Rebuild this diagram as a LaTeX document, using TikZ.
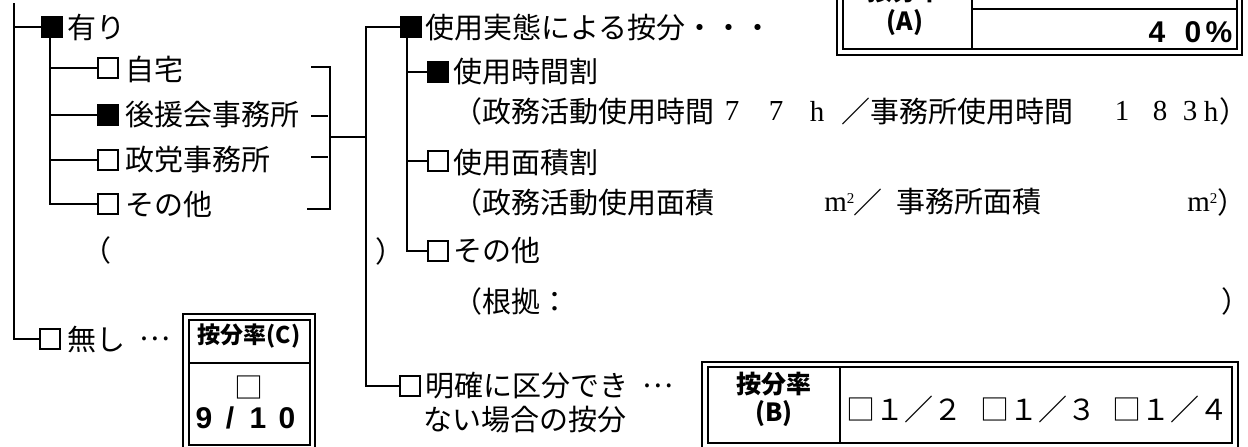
\documentclass[tikz,border=0pt]{standalone}
\usepackage{fontspec}
\setmainfont{Noto Sans CJK JP}
\newfontfamily\serifnum{Liberation Serif}
\newfontfamily\sansnum{Liberation Sans}
\begin{document}
\begin{tikzpicture}[x=0.5pt,y=-0.5pt]
\tikzset{
 tree/.style={line width=1.2pt},
 sqe/.style={draw, line width=0.75pt, minimum size=10pt, inner sep=0pt, fill=white},
 sqf/.style={sqe, fill=black},
 lbl/.style={anchor=west, inner sep=0pt, font=\fontsize{14.5pt}{16pt}\selectfont},
 cen/.style={inner sep=0pt, font=\fontsize{14.5pt}{16pt}\selectfont},
 num/.style={inner sep=0pt, font=\serifnum\fontsize{14.5pt}{16pt}\selectfont},
 bnum/.style={inner sep=0pt, font=\sansnum\bfseries\fontsize{15pt}{17pt}\selectfont},
 hdr/.style={inner sep=0pt, font=\bfseries\fontsize{12.5pt}{14pt}\selectfont},
 frame/.style={line width=1pt},
}
\newcommand{\sqm}{m\raisebox{0.6ex}{\fontsize{7.5pt}{8pt}\selectfont 2}}
\useasboundingbox (0,0) rectangle (1248,446);
\clip (0,0) rectangle (1248,446);
\fill[white] (0,0) rectangle (1248,446);

% ---------- left tree ----------
\coordinate (Ltop) at (14,3);
\node[sqf] (sqYes) at (52,27) {};
\node[lbl] (tYes) at (67,27) {有り};
\node[sqe] (sqHome) at (108,68) {};
\node[lbl] (tHome) at (125,69) {自宅};
\node[sqf] (sqKoen) at (108,115) {};
\node[lbl] (tKoen) at (125,115) {後援会事務所};
\node[sqe] (sqParty) at (108,160) {};
\node[lbl] (tParty) at (125,160) {政党事務所};
\node[sqe] (sqOther) at (108,204) {};
\node[lbl] (tOther) at (125,204) {その他};
\node[sqe] (sqNone) at (50,339) {};
\node[lbl] (tNone) at (67,339) {無し};
\node[lbl] (tNoneDots) at (139,339) {…};
\node[lbl] (pL) at (82,250) {（};
\node[lbl] (pR) at (375,251) {）};

\coordinate (Lsub) at (50,37);
\draw[tree] (Ltop) |- (sqNone.west);
\draw[tree] (Ltop |- sqYes.west) -- (sqYes.west);
\draw[tree] (Lsub) |- (sqOther.west);
\draw[tree] (Lsub |- sqHome.west) -- (sqHome.west);
\draw[tree] (Lsub |- sqKoen.west) -- (sqKoen.west);
\draw[tree] (Lsub |- sqParty.west) -- (sqParty.west);

% bracket
\coordinate (brT) at (330,67);
\coordinate (brB) at (330,209);
\coordinate (brM) at (330,137);
\draw[tree] (311,67) -- (brT) -- (brB) -- (307,209);
\draw[tree] (311,116) -- (328,116);
\draw[tree] (311,157) -- (328,157);

% ---------- middle tree ----------
\node[sqf] (sqUse) at (411,27) {};
\node[lbl] (tUse) at (425,27) {使用実態による按分・・・};
\node[sqf] (sqTime) at (438,72) {};
\node[lbl] (tTime) at (453,72) {使用時間割};
\node[sqe] (sqArea) at (438,161) {};
\node[lbl] (tArea) at (453,163) {使用面積割};
\node[sqe] (sqOth2) at (438,251) {};
\node[lbl] (tOth2) at (453,250) {その他};
\node[sqe] (sqUnclear) at (410,386) {};
\node[lbl] (tUnclear) at (425,386) {明確に区分でき};
\node[lbl] (tDots) at (642,386) {…};
\node[lbl] (tUnclear2) at (423,420) {ない場合の按分};

\coordinate (mTop) at (366,27);
\draw[tree] (sqUse.west) -- (mTop) |- (sqUnclear.west);
\draw[tree] (brM) -- (brM -| mTop);
\coordinate (v2) at (407,38);
\draw[tree] (v2) |- (sqOth2.west);
\draw[tree] (v2 |- sqTime.west) -- (sqTime.west);
\draw[tree] (v2 |- sqArea.west) -- (sqArea.west);

% row: time
\node[lbl] (tTimeA) at (453,111) {（政務活動使用時間};
\node[num] (n7a) at (732,111) {7};
\node[num] (n7b) at (776,111) {7};
\node[num] (nha) at (817,111) {h};
\node[lbl] (tTimeB) at (841,111) {／事務所使用時間};
\node[num] (n1) at (1122,111) {1};
\node[num] (n8) at (1160,111) {8};
\node[num] (n3) at (1190,111) {3};
\node[num] (nhb) at (1211,111) {h};
\node[lbl] (tTimeC) at (1219,111) {）};

% row: area
\node[lbl] (tAreaA) at (453,202) {（政務活動使用面積};
\node[num, anchor=west] (m1) at (824,203) {\sqm};
\node[lbl] (tAreaB) at (853,202) {／};
\node[lbl] (tAreaC) at (896,202) {事務所面積};
\node[num, anchor=west] (m2) at (1187,203) {\sqm};
\node[lbl] (tAreaD) at (1217,202) {）};

% row: other
\node[lbl] (tBasis) at (453,301) {（根拠：};
\node[lbl] (tBasisR) at (1221,301) {）};

% ---------- box A ----------
\draw[frame] (837,-20) rectangle (1242,55);
\draw[frame] (843,-20) rectangle (1237,49);
\draw[frame] (972,-20) -- (972,49);
\draw[frame] (972,9) -- (1237,9);
\node[hdr] (aHdr) at (905,-9) {按分率};
\node[hdr] (aLbl) at (905,23) {(A)};
\node[bnum] (a4) at (1157,32) {4};
\node[bnum] (a0) at (1193,32) {0};
\node[bnum] (ap) at (1219,32) {\%};

% ---------- box B ----------
\draw[frame] (702,362) rectangle (1238,470);
\draw[frame] (708,367) rectangle (1232,443);
\draw[frame] (840,367) -- (840,443);
\node[hdr] (bHdr) at (774,384) {按分率};
\node[hdr] (bLbl) at (774,414) {(B)};
\node[lbl] (b1) at (846,409) {□１／２};
\node[lbl] (b2) at (980,409) {□１／３};
\node[lbl] (b3) at (1112,409) {□１／４};

% ---------- box C ----------
\draw[frame] (183,314) rectangle (315,470);
\draw[frame] (189,320) rectangle (310,445);
\draw[frame] (189,363) -- (310,363);
\node[hdr, font=\bfseries\fontsize{11.5pt}{13pt}\selectfont] (cHdr) at (249,336) {按分率(C)};
\node[cen] (cBox) at (249,387) {□};
\node[bnum] (c9) at (204,418) {9};
\node[bnum] (cs) at (230,418) {/};
\node[bnum] (c1) at (258,418) {1};
\node[bnum] (c0) at (287,418) {0};
\end{tikzpicture}
\end{document}
